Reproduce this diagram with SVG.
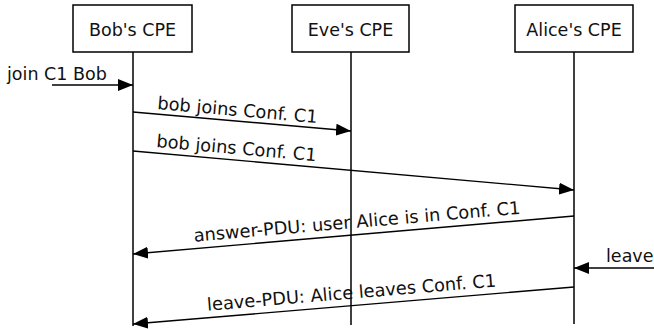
<svg xmlns="http://www.w3.org/2000/svg" width="654" height="329" viewBox="0 0 654 329">
<defs>
<marker id="ah" viewBox="0 0 15 12" refX="15" refY="6" markerWidth="15" markerHeight="12" markerUnits="userSpaceOnUse" orient="auto">
<path d="M0,0 L15,6 L0,12 Z" fill="#000"/>
</marker>
<style>
.box{fill:#fff;stroke:#000;stroke-width:1.5}
.life{stroke:#000;stroke-width:1.5;fill:none}
.msg{stroke:#000;stroke-width:1.4;fill:none;marker-end:url(#ah)}
text{font-family:"DejaVu Sans","Liberation Sans",sans-serif;fill:#111;font-size:17.5px}
.ml{font-size:17.8px}
</style>
</defs>
<rect width="654" height="329" fill="#fff"/>
<g id="bob">
<rect class="box" x="73" y="5" width="119" height="47"/>
<line class="life" x1="133" y1="52" x2="133" y2="326"/>
<text x="132.5" y="36" text-anchor="middle">Bob's CPE</text>
</g>
<g id="eve">
<rect class="box" x="292" y="5" width="117" height="47"/>
<line class="life" x1="351" y1="52" x2="351" y2="325"/>
<text x="350.5" y="36" text-anchor="middle">Eve's CPE</text>
</g>
<g id="alice">
<rect class="box" x="515" y="5" width="118" height="47"/>
<line class="life" x1="574" y1="52" x2="574" y2="324"/>
<text x="574" y="36" text-anchor="middle">Alice's CPE</text>
</g>
<g id="connectors">
<line class="msg" x1="52" y1="85" x2="133" y2="85"/>
<line class="msg" x1="133" y1="112" x2="351" y2="131"/>
<line class="msg" x1="133" y1="151" x2="574" y2="190"/>
<line class="msg" x1="574" y1="216" x2="133" y2="254"/>
<line class="msg" x1="654" y1="268" x2="574" y2="268"/>
<line class="msg" x1="574" y1="287" x2="133" y2="324"/>
</g>
<g id="labels">
<text x="7" y="80">join C1 Bob</text>
<text class="ml" transform="translate(157,109) rotate(5)">bob joins Conf. C1</text>
<text class="ml" transform="translate(156,147) rotate(5.05)">bob joins Conf. C1</text>
<text class="ml" transform="translate(357.5,227.7) rotate(-4.9)" text-anchor="middle">answer-PDU: user Alice is in Conf. C1</text>
<text x="606" y="262">leave</text>
<text class="ml" transform="translate(352,298.6) rotate(-4.8)" text-anchor="middle">leave-PDU: Alice leaves Conf. C1</text>
</g>
</svg>
